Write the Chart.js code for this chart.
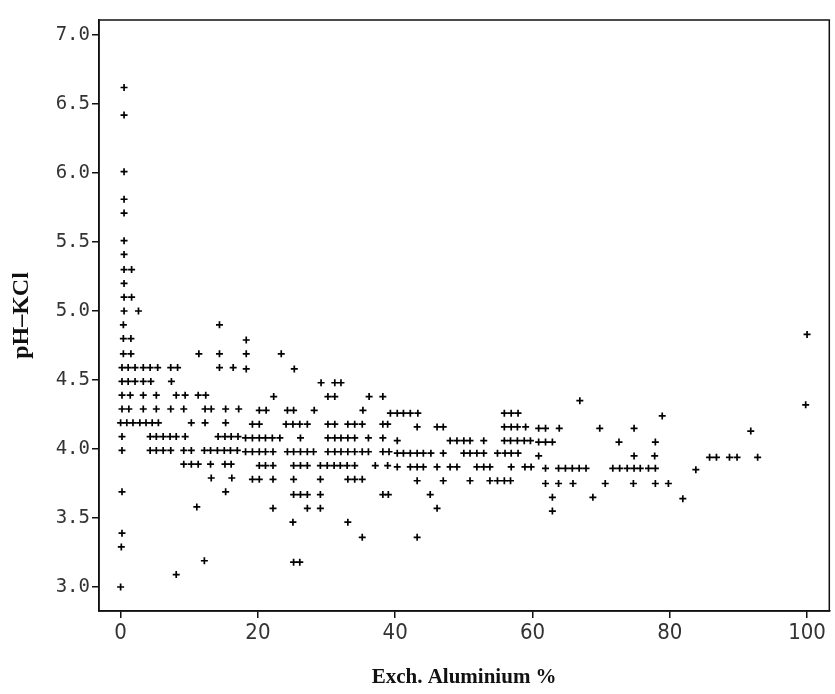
<!DOCTYPE html>
<html>
<head>
<meta charset="utf-8">
<script src="https://cdn.jsdelivr.net/npm/chart.js@4.4.1/dist/chart.umd.min.js"></script>
<style>
  html, body { margin: 0; padding: 0; background: #fff; }
  #wrap { width: 835px; height: 694px; }
</style>
</head>
<body>
<div id="wrap"><canvas id="scatter"></canvas></div>
<script>
// pH-KCl (runs drift a little to the right in the scan)
const segPH = [
  6.62, 6.42, 6.01, 5.81, 5.71, 5.51, 5.41, 5.30, 5.20, 5.10, 5.00,
  4.90, 4.80, 4.79,
  4.69,
  4.59, 4.58,
  4.49, 4.48,
  4.39, 4.38,
  4.29, 4.28, 4.26, 4.35, 4.24, 4.32, 4.83,
  4.19, 4.18, 4.16, 4.15, 4.13,
  4.09, 4.08, 4.06, 4.05,
  3.99, 3.98, 3.97, 3.95, 3.94,
  3.89, 3.88, 3.87, 3.86, 3.85,
  3.79, 3.78, 3.77, 3.75,
  3.69, 3.67, 3.65, 3.64,
  3.58, 3.57, 3.55,
  3.47, 3.39, 3.36, 3.29, 3.19, 3.18, 3.09, 3.00
];

// exchangeable aluminium % of the points in each run
const segAl = [
  [0.5], [0.5], [0.5], [0.5], [0.5], [0.5], [0.5], [0.5, 1.6], [0.5], [0.5, 1.6], [0.5, 2.6],
  [0.4, 14.4], [0.4, 1.5], [18.3],
  [0.4, 1.5, 11.4, 14.4, 18.3, 23.4],
  [0.2, 1.1, 2.1, 3.3, 4.3, 5.4, 7.3, 8.3, 14.4, 16.4], [18.3, 25.3],
  [0.2, 1.1, 2.1, 3.3, 4.4, 7.4], [29.2, 31.2, 32.1],
  [0.2, 1.4, 3.3, 5.2, 8.1, 9.4, 11.3, 12.4], [22.3, 30.2, 31.2, 36.2, 38.2],
  [0.2, 1.2, 3.3, 5.2, 7.3, 9.2, 12.3, 13.2, 15.3, 17.2],
  [20.2, 21.2, 24.3, 25.2, 28.2, 35.3],
  [39.3, 40.3, 41.2, 42.2, 43.3, 55.9, 56.9, 57.9],
  [66.9], [78.9], [99.8], [100.0],
  [0, 0.9, 1.8, 2.8, 3.7, 4.6, 5.5, 10.3, 12.3, 15.3],
  [19.2, 20.2, 24.1, 25.1, 26.1, 27.2, 30.2, 31.2, 33.1, 34.1, 35.2, 38.2, 38.9],
  [43.2, 46.1, 47.0, 55.9, 56.9, 57.8, 59.0],
  [60.9, 61.9, 63.9, 69.8, 74.8],
  [91.8],
  [0.2, 4.3, 5.2, 6.2, 7.2, 8.1, 9.4, 14.2, 15.2, 16.1, 17.1],
  [18.2, 19.2, 20.2, 21.1, 22.1, 23.2, 26.2, 30.2, 31.2, 32.1, 33.1, 34.1, 36.1, 38.2],
  [40.3, 48.0, 49.0, 50.0, 50.9, 52.9, 55.9, 56.8, 57.8, 58.8, 59.7],
  [60.9, 61.9, 62.9, 72.6, 77.9],
  [0.2, 4.3, 5.2, 6.2, 7.3, 9.2, 10.3, 12.2, 13.1, 14.1, 15.1, 16.0, 17.0],
  [18.2, 19.2, 20.2, 21.1, 22.2, 24.3, 25.2, 26.2, 27.2, 28.1, 30.2, 31.2, 32.1, 33.1, 34.1, 35.2, 36.1, 38.2, 39.1],
  [40.3, 41.2, 42.2, 43.2, 44.1, 45.2, 47.0, 50.0, 50.9, 51.9, 52.9, 54.9, 56.0, 56.9, 57.9],
  [60.9, 74.8, 77.8],
  [85.8, 86.8, 88.7, 89.8, 92.8],
  [9.2, 10.3, 11.3, 13.1, 15.2, 16.1],
  [20.2, 21.1, 22.2, 25.2, 26.2, 27.2, 29.1, 30.1, 31.1, 32.0, 33.0, 34.1, 37.1, 38.9],
  [40.3, 42.2, 43.2, 44.1, 46.1, 48.0, 49.0, 51.9, 52.9, 53.8, 56.9, 58.9, 59.8],
  [61.9, 63.8, 64.8, 65.8, 66.8, 67.8, 71.7, 72.7, 73.8, 74.8, 75.7, 76.9, 77.9],
  [83.8],
  [13.2, 16.2],
  [19.2, 20.2, 22.2, 25.2, 29.1, 33.1, 34.1, 35.2],
  [43.2, 47.0, 50.9, 53.8, 54.9, 55.9, 56.8],
  [61.9, 63.8, 65.9, 70.6, 74.7, 77.9, 79.8],
  [0.2, 15.3],
  [25.2, 26.2, 27.2, 29.1, 38.2, 39.0, 45.1],
  [62.9, 68.8],
  [81.9],
  [11.1],
  [22.2, 27.2, 29.1, 46.1],
  [62.9],
  [25.1, 33.1], [0.2], [35.2, 43.2], [0.1], [12.2], [25.2, 26.1], [8.1], [0]
];

const xTicks = [0, 20, 40, 60, 80, 100];
const yTicks = [3.0, 3.5, 4.0, 4.5, 5.0, 5.5, 6.0, 6.5, 7.0];

const points = [];
segAl.forEach((xs, i) => xs.forEach(x => points.push({ x: x, y: segPH[i] })));

// box round the plot area (top and right edges)
const frame = {
  id: 'frame',
  afterDraw(chart) {
    const a = chart.chartArea, ctx = chart.ctx;
    ctx.save();
    ctx.strokeStyle = '#111';
    ctx.lineWidth = 1.5;
    ctx.strokeRect(a.left, a.top, a.right - a.left, a.bottom - a.top);
    ctx.restore();
  }
};

new Chart(document.getElementById('scatter'), {
  type: 'scatter',
  data: {
    datasets: [{
      data: points,
      pointStyle: 'cross',
      pointRadius: 3.5,
      pointBorderWidth: 1.7,
      borderColor: '#000',
      backgroundColor: '#000'
    }]
  },
  options: {
    responsive: true,
    maintainAspectRatio: false,
    animation: false,
    events: [],
    layout: { padding: { left: 0, right: 4, top: 20, bottom: 0 } },
    plugins: { legend: { display: false }, tooltip: { enabled: false } },
    scales: {
      x: {
        type: 'linear',
        min: -3.15,
        max: 103.24,
        afterBuildTicks: s => { s.ticks = xTicks.map(v => ({ value: v })); },
        afterFit: s => { s.height = 83; },
        ticks: {
          autoSkip: false, maxRotation: 0, padding: 2, color: '#333',
          font: { family: "'Liberation Sans Narrow', 'DejaVu Sans Condensed', sans-serif", size: 22 },
          callback: v => String(v)
        },
        grid: { drawOnChartArea: false, tickLength: 7, color: '#111', lineWidth: 1.5 },
        border: { color: '#111', width: 1.5 },
        title: {
          display: true, text: 'Exch. Aluminium %', color: '#111',
          font: { family: "'Liberation Serif', serif", size: 21, weight: '600' },
          padding: { top: 4, bottom: 4 }
        }
      },
      y: {
        type: 'linear',
        min: 2.826,
        max: 7.109,
        afterBuildTicks: s => { s.ticks = yTicks.map(v => ({ value: v })); },
        afterFit: s => { s.width = 99; },
        ticks: {
          autoSkip: false, padding: 2, color: '#333',
          font: { family: "'DejaVu Sans Mono', monospace", size: 19 },
          callback: v => v.toFixed(1)
        },
        grid: { drawOnChartArea: false, tickLength: 7, color: '#111', lineWidth: 1.5 },
        border: { color: '#111', width: 1.5 },
        title: {
          display: true, text: 'pH–KCl', color: '#111',
          font: { family: "'Liberation Serif', serif", size: 24, weight: 'bold' },
          padding: { top: 7, bottom: 4 }
        }
      }
    }
  },
  plugins: [frame]
});
</script>
</body>
</html>
